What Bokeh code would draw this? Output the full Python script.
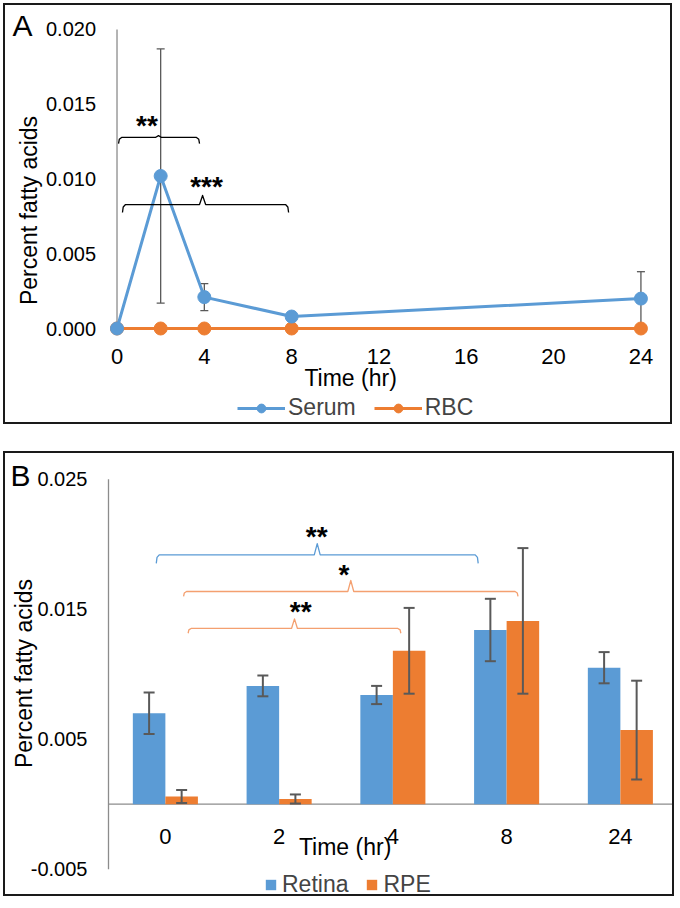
import math
from bokeh.plotting import figure
from bokeh.models import (ColumnDataSource, FixedTicker, PrintfTickFormatter, Whisker,
                          Legend, LegendItem, Label, Range1d, TeeHead)
from bokeh.layouts import column
from bokeh.embed import file_html
from bokeh.resources import INLINE
from bokeh.core.properties import value

# ---------------- data: panel A ----------------
time_a = [0, 2, 4, 8, 24]
serum = [0.0, 0.0102, 0.0021, 0.0008, 0.0020]
serum_err = [0.0, 0.0085, 0.0009, 0.0, 0.0018]
rbc = [0.0, 0.0, 0.0, 0.0, 0.0]
a_xticks = [0, 4, 8, 12, 16, 20, 24]
a_yticks = [0.0, 0.005, 0.010, 0.015, 0.020]

# significance brackets panel A
sigA_left = [0.07, 0.25]
sigA_right = [3.78, 7.86]
sigA_apex = [1.9, 3.92]
sigA_level = [0.01278, 0.00829]
sigA_low = [0.01237, 0.00776]
sigA_tip = [0.0129, 0.0089]
sigA_text = ["**", "***"]
sigA_tx = [1.37, 4.1]
sigA_ty = [0.0138, 0.0097]

# ---------------- data: panel B ----------------
times_b = ["0", "2", "4", "8", "24"]
retina = [0.0070, 0.0091, 0.0084, 0.0134, 0.0105]
retina_err = [0.0016, 0.0008, 0.0007, 0.0024, 0.0012]
rpe = [0.0006, 0.0004, 0.0118, 0.0141, 0.0057]
rpe_err = [0.0005, 0.00035, 0.0033, 0.0056, 0.0038]
b_yticks = [-0.005, 0.005, 0.015, 0.025]

sigB_left = [0.42, 0.66, 0.70]
sigB_right = [3.25, 3.60, 2.57]
sigB_apex = [1.835, 2.13, 1.635]
sigB_level = [0.01918, 0.01636, 0.01352]
sigB_low = [0.01852, 0.01598, 0.01315]
sigB_tip = [0.02005, 0.01721, 0.01426]
sigB_text = ["**", "*", "**"]
sigB_tx = [1.83, 2.07, 1.69]
sigB_ty = [0.02083, 0.0179, 0.01508]

BLUE = "#5B9BD5"
ORANGE = "#ED7D31"
LORANGE = "#F4A070"
GRAY = "#8C8C8C"
ERR = "#595959"
FONT = "Liberation Sans"


def brace(l, r, a, lev, low, tip, e):
    xs = [l, l + e * 0.25, l + e, a - e, a, a + e, r - e, r - e * 0.25, r]
    ys = [low, lev - (lev - low) * 0.3, lev, lev, tip, lev, lev, lev - (lev - low) * 0.3, low]
    return xs, ys


def style_axis(ax, size):
    ax.axis_line_color = None
    ax.major_tick_line_color = None
    ax.minor_tick_line_color = None
    ax.major_label_text_font = FONT
    ax.major_label_text_font_size = size
    ax.major_label_text_color = "black"


def title(p, x, y, text, size="23px", angle=0.0):
    p.add_layout(Label(x=x, y=y, text=text, text_font=FONT, text_font_size=size, angle=angle,
                       text_align="center", text_baseline="middle", text_color="black"))


BORDER = {"border": "2px solid #1a1a1a"}

# ================= Panel A =================
pA = figure(width=669, height=421, output_backend="svg", toolbar_location=None,
            x_range=Range1d(-5.108, 25.538), y_range=Range1d(-0.006555, 0.021605),
            min_border=0, margin=(3, 0, 0, 3))
pA.styles = BORDER
pA.outline_line_color = None
pA.xgrid.visible = False
pA.ygrid.visible = False

pA.xaxis.ticker = FixedTicker(ticks=a_xticks)
pA.xaxis.fixed_location = 0
pA.xaxis.major_label_standoff = 14
style_axis(pA.xaxis[0], "22px")

pA.yaxis.ticker = FixedTicker(ticks=a_yticks)
pA.yaxis.formatter = PrintfTickFormatter(format="%.3f")
pA.yaxis.fixed_location = 0
pA.yaxis.major_label_standoff = 15
style_axis(pA.yaxis[0], "20px")

# y axis line from first to last tick
pA.segment(x0=[a_xticks[0]], y0=[a_yticks[0]], x1=[a_xticks[0]], y1=[a_yticks[-1]],
           line_color=GRAY, line_width=1.3)

srcA = ColumnDataSource(dict(t=time_a, serum=serum, rbc=rbc,
                             up=[v + e for v, e in zip(serum, serum_err)],
                             lo=[v - e for v, e in zip(serum, serum_err)]))
wA = Whisker(base="t", upper="up", lower="lo", source=srcA, line_color=ERR, line_width=1.3,
             upper_head=TeeHead(size=8, line_color=ERR, line_width=1.3),
             lower_head=TeeHead(size=8, line_color=ERR, line_width=1.3), level="underlay")
pA.add_layout(wA)

rbc_line = pA.line("t", "rbc", source=srcA, line_color=ORANGE, line_width=3)
rbc_pts = pA.scatter("t", "rbc", source=srcA, size=13, fill_color=ORANGE, line_color=ORANGE)
ser_line = pA.line("t", "serum", source=srcA, line_color=BLUE, line_width=3)
ser_pts = pA.scatter("t", "serum", source=srcA, size=13, fill_color=BLUE, line_color=BLUE)

bxs, bys = [], []
for i in range(len(sigA_text)):
    xs, ys = brace(sigA_left[i], sigA_right[i], sigA_apex[i], sigA_level[i], sigA_low[i], sigA_tip[i], 0.14)
    bxs.append(xs)
    bys.append(ys)
pA.multi_line(bxs, bys, line_color="black", line_width=1.3, line_join="round")
pA.text(x=sigA_tx, y=sigA_ty, text=sigA_text, text_font=value(FONT), text_font_size="28px",
        text_font_style="bold", text_align="center", text_baseline="middle", y_offset=3,
        text_color="black")

title(pA, 10.70, -0.003278, "Time (hr)")
title(pA, -4.054, 0.007893, "Percent fatty acids", angle=math.pi / 2)
title(pA, -4.329, 0.020268, "A", size="30px")

legA = Legend(items=[LegendItem(label="Serum", renderers=[ser_line, ser_pts]),
                     LegendItem(label="RBC", renderers=[rbc_line, rbc_pts])],
              orientation="horizontal", location=(232, 5), glyph_width=48, glyph_height=22,
              label_standoff=3, spacing=18, padding=0, margin=0, border_line_color=None,
              background_fill_alpha=0, label_text_font=FONT, label_text_font_size="23px",
              label_height=22)
pA.add_layout(legA)

# ================= Panel B =================
pB = figure(width=671, height=445, output_backend="svg", toolbar_location=None,
            x_range=Range1d(-0.9055, 4.9934), y_range=Range1d(-0.007254, 0.026977),
            min_border=0, margin=(0, 0, 0, 3))
pB.styles = BORDER
pB.outline_line_color = None
pB.xgrid.visible = False
pB.ygrid.visible = False

xpos = [i + 0.5 for i in range(len(times_b))]

pB.yaxis.ticker = FixedTicker(ticks=b_yticks)
pB.yaxis.formatter = PrintfTickFormatter(format="%.3f")
pB.yaxis.fixed_location = 0
pB.yaxis.major_label_standoff = 15
style_axis(pB.yaxis[0], "20px")

pB.xaxis.ticker = FixedTicker(ticks=xpos)
pB.xaxis.major_label_overrides = {x: t for x, t in zip(xpos, times_b)}
pB.xaxis.fixed_location = 0
pB.xaxis.major_label_standoff = 19
style_axis(pB.xaxis[0], "22px")

# axis lines
pB.segment(x0=[0], y0=[b_yticks[0]], x1=[0], y1=[b_yticks[-1]], line_color=GRAY, line_width=1.3)
pB.segment(x0=[0], y0=[0], x1=[len(times_b)], y1=[0], line_color=GRAY, line_width=1.3)

BW = 0.286
srcB = ColumnDataSource(dict(xr=[x - BW / 2 for x in xpos], xp=[x + BW / 2 for x in xpos],
                             retina=retina, rpe=rpe,
                             rup=[v + e for v, e in zip(retina, retina_err)],
                             rlo=[v - e for v, e in zip(retina, retina_err)],
                             pup=[v + e for v, e in zip(rpe, rpe_err)],
                             plo=[v - e for v, e in zip(rpe, rpe_err)]))
vb_ret = pB.vbar(x="xr", top="retina", width=BW, source=srcB, fill_color=BLUE, line_color=None)
vb_rpe = pB.vbar(x="xp", top="rpe", width=BW, source=srcB, fill_color=ORANGE, line_color=None)
for base, up, lo in [("xr", "rup", "rlo"), ("xp", "pup", "plo")]:
    w = Whisker(base=base, upper=up, lower=lo, source=srcB, line_color=ERR, line_width=2,
                upper_head=TeeHead(size=11, line_color=ERR, line_width=2),
                lower_head=TeeHead(size=11, line_color=ERR, line_width=2), level="overlay")
    pB.add_layout(w)

bcol = [BLUE, LORANGE, LORANGE]
bxs, bys = [], []
for i in range(len(sigB_text)):
    xs, ys = brace(sigB_left[i], sigB_right[i], sigB_apex[i], sigB_level[i], sigB_low[i], sigB_tip[i], 0.026)
    bxs.append(xs)
    bys.append(ys)
pB.multi_line(bxs, bys, line_color=bcol, line_width=1.3, line_join="round")
pB.text(x=sigB_tx, y=sigB_ty, text=sigB_text, text_font=value(FONT), text_font_size="28px",
        text_font_style="bold", text_align="center", text_baseline="middle", y_offset=3,
        text_color="black")

title(pB, 2.08, -0.0033, "Time (hr)")
title(pB, -0.747, 0.010054, "Percent fatty acids", angle=math.pi / 2)
title(pB, -0.7736, 0.025323, "B", size="30px")

legB = Legend(items=[LegendItem(label="Retina", renderers=[vb_ret]),
                     LegendItem(label="RPE", renderers=[vb_rpe])],
              orientation="horizontal", location=(259, 0), glyph_width=13, glyph_height=13,
              label_standoff=5, spacing=17, padding=0, margin=0, border_line_color=None,
              background_fill_alpha=0, label_text_font=FONT, label_text_font_size="23px",
              label_height=22)
pB.add_layout(legB)

layout = column(pA, pB, spacing=27)
open("out.html", "w").write(file_html(layout, INLINE))
